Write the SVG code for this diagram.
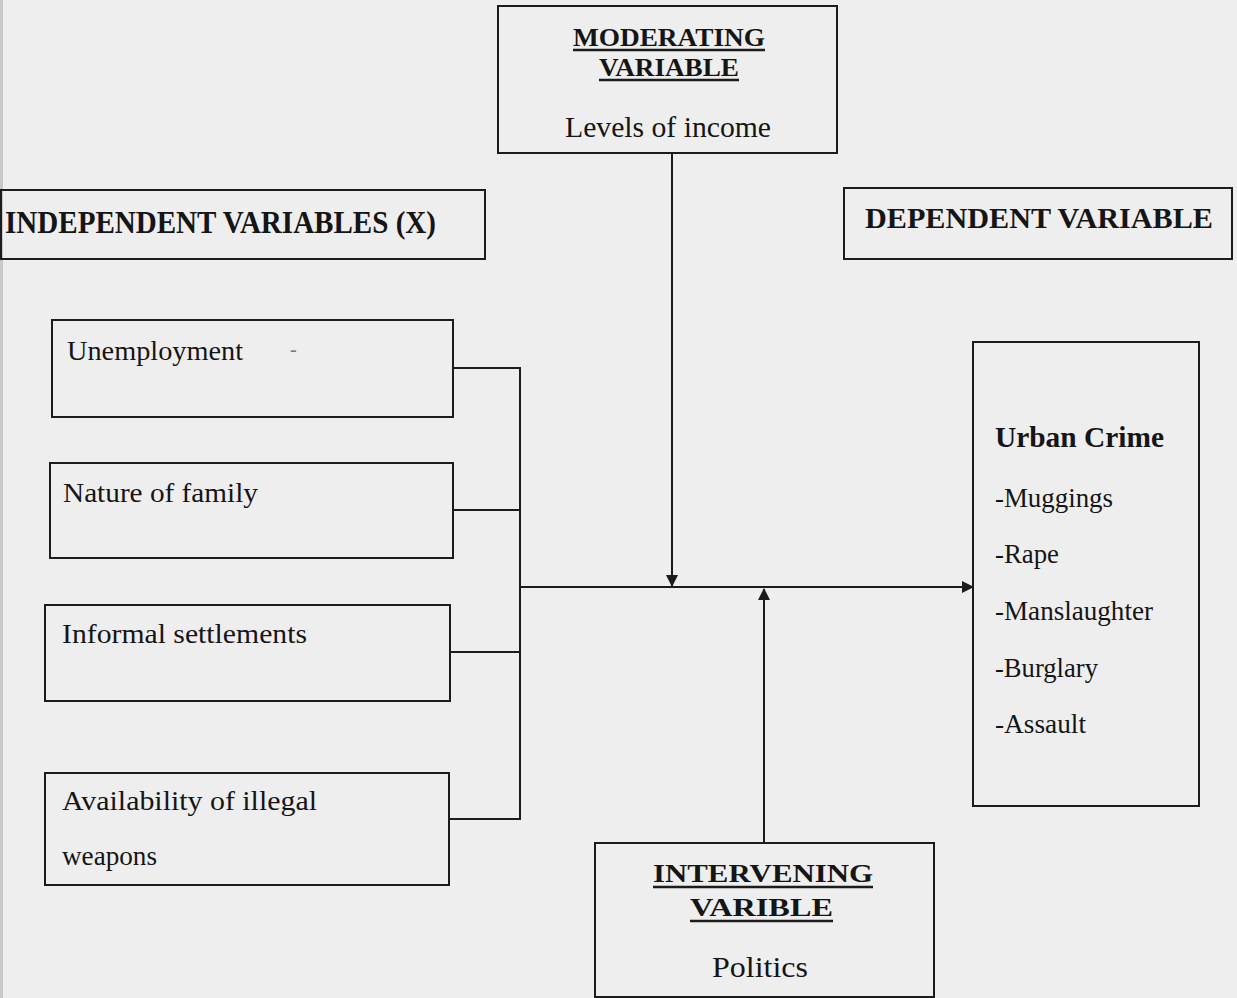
<svg xmlns="http://www.w3.org/2000/svg" width="1237" height="998" viewBox="0 0 1237 998">
<style>
.box{fill:none;stroke:#1c1c1c;stroke-width:2}
.ln{fill:none;stroke:#1c1c1c;stroke-width:2}
.ul{stroke:#1c1c1c;stroke-width:2.5}
text{font-family:"Liberation Serif","Times New Roman",serif;fill:#151515}
.b{font-weight:bold}
.h{font-size:29px}
.s{font-size:25.5px}
.t{font-size:28px}
</style>
<defs>
<marker id="ah" viewBox="0 0 12 12" refX="11" refY="6" markerWidth="12" markerHeight="12" markerUnits="userSpaceOnUse" orient="auto">
<path d="M0,0 L12,6 L0,12 Z" fill="#1c1c1c"/>
</marker>
</defs>
<rect width="1237" height="998" fill="#eeeeee"/>
<rect x="0" y="0" width="3" height="998" fill="#c8c8c8"/>

<g id="moderating">
<rect class="box" x="498" y="6" width="339" height="147"/>
<text class="b s" x="573" y="46" textLength="192" lengthAdjust="spacingAndGlyphs">MODERATING</text>
<line class="ul" x1="573" y1="50" x2="765" y2="50"/>
<text class="b s" x="599" y="76" textLength="140" lengthAdjust="spacingAndGlyphs">VARIABLE</text>
<line class="ul" x1="599" y1="80" x2="739" y2="80"/>
<text class="h" x="565" y="137" textLength="206" lengthAdjust="spacingAndGlyphs">Levels of income</text>
</g>

<g id="independent-header">
<rect class="box" x="1" y="190" width="484" height="69"/>
<text class="b" style="font-size:31px" x="5" y="233" textLength="431" lengthAdjust="spacingAndGlyphs">INDEPENDENT VARIABLES (X)</text>
</g>

<g id="dependent-header">
<rect class="box" x="844" y="188" width="388" height="71"/>
<text class="b h" x="865" y="228" textLength="348" lengthAdjust="spacingAndGlyphs">DEPENDENT VARIABLE</text>
</g>

<g id="unemployment">
<rect class="box" x="52" y="320" width="401" height="97"/>
<text class="t" x="67" y="360" textLength="176" lengthAdjust="spacingAndGlyphs">Unemployment</text>
<text style="font-size:20px;fill:#777" x="290" y="356">-</text>
</g>

<g id="nature-of-family">
<rect class="box" x="50" y="463" width="403" height="95"/>
<text class="t" x="63" y="502" textLength="195" lengthAdjust="spacingAndGlyphs">Nature of family</text>
</g>

<g id="informal-settlements">
<rect class="box" x="45" y="605" width="405" height="96"/>
<text class="t" x="62" y="643" textLength="245" lengthAdjust="spacingAndGlyphs">Informal settlements</text>
</g>

<g id="illegal-weapons">
<rect class="box" x="45" y="773" width="404" height="112"/>
<text class="t" x="62" y="810" textLength="255" lengthAdjust="spacingAndGlyphs">Availability of illegal</text>
<text class="t" x="62" y="865" textLength="95" lengthAdjust="spacingAndGlyphs">weapons</text>
</g>

<g id="urban-crime">
<rect class="box" x="973" y="342" width="226" height="464"/>
<text class="b h" x="995" y="447" textLength="169" lengthAdjust="spacingAndGlyphs">Urban Crime</text>
<text class="t" x="995" y="507" textLength="118" lengthAdjust="spacingAndGlyphs">-Muggings</text>
<text class="t" x="995" y="563" textLength="64" lengthAdjust="spacingAndGlyphs">-Rape</text>
<text class="t" x="995" y="620" textLength="158" lengthAdjust="spacingAndGlyphs">-Manslaughter</text>
<text class="t" x="995" y="677" textLength="103" lengthAdjust="spacingAndGlyphs">-Burglary</text>
<text class="t" x="995" y="733" textLength="91" lengthAdjust="spacingAndGlyphs">-Assault</text>
</g>

<g id="intervening">
<rect class="box" x="595" y="843" width="339" height="154"/>
<text class="b s" x="653" y="882" textLength="220" lengthAdjust="spacingAndGlyphs">INTERVENING</text>
<line class="ul" x1="653" y1="887" x2="873" y2="887"/>
<text class="b s" x="690" y="916" textLength="143" lengthAdjust="spacingAndGlyphs">VARIBLE</text>
<line class="ul" x1="690" y1="921" x2="833" y2="921"/>
<text class="h" x="712" y="977" textLength="96" lengthAdjust="spacingAndGlyphs">Politics</text>
</g>

<g id="connectors">
<line class="ln" x1="453" y1="368" x2="521" y2="368"/>
<line class="ln" x1="453" y1="510" x2="521" y2="510"/>
<line class="ln" x1="450" y1="652" x2="521" y2="652"/>
<line class="ln" x1="449" y1="819" x2="521" y2="819"/>
<line class="ln" x1="520" y1="367" x2="520" y2="820"/>
<line class="ln" x1="520" y1="587" x2="973" y2="587" marker-end="url(#ah)"/>
<line class="ln" x1="672" y1="153" x2="672" y2="586" marker-end="url(#ah)"/>
<line class="ln" x1="764" y1="843" x2="764" y2="589" marker-end="url(#ah)"/>
</g>
</svg>
